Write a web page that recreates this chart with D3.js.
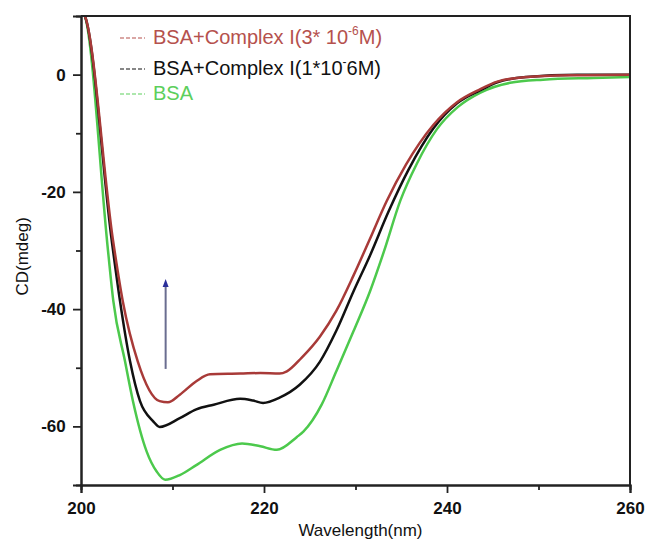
<!DOCTYPE html>
<html>
<head>
<meta charset="utf-8">
<script src="https://cdn.jsdelivr.net/npm/d3@7"></script>
<style>
  body { margin: 0; background: #fff; }
  svg { display: block; font-family: "Liberation Sans", Arial, sans-serif; }
</style>
</head>
<body>
<svg id="chart" width="646" height="541"></svg>
<script>
// CD spectra: [wavelength nm, CD mdeg]
var bsa = [[200, 11], [200.44, 9.9], [202.95, -30], [203.53, -38.6], [204.81, -48.9], [205.68, -55.7],
  [207.18, -64.3], [208.27, -67.7], [209.2, -69.1], [210.8, -68.3], [212.6, -66.6], [215.2, -64],
  [217.6, -62.9], [219.6, -63.4], [221.4, -64], [223.6, -61.8], [224.3, -60.9], [226.3, -56.3],
  [227.9, -50.6], [229.8, -43.7], [231.6, -36.9], [233.1, -30.2], [234.9, -21.5], [236.7, -15.2],
  [238.9, -9.3], [241.2, -5.5], [243.6, -3.1], [246.9, -1.4], [250.5, -0.86], [256, -0.57], [260, -0.4]];

var complex1 = [[200, 11], [200.44, 9.9], [203.36, -28.3], [204.26, -38.6], [205.36, -48.9], [206.45, -55.7],
  [207.87, -59.1], [208.6, -60.1], [210.8, -58.6], [212.6, -57.1], [214.5, -56.3], [217.4, -55.3],
  [218.8, -55.6], [219.9, -56], [221.7, -55.1], [223.9, -52.9], [226.1, -49], [227.9, -43.7],
  [229.8, -36.9], [231.6, -30.8], [233.6, -23.4], [235.8, -16.2], [238.5, -9.2], [241.1, -4.9],
  [243.6, -2.7], [245.5, -1.3], [248.7, -0.4], [254.2, 0], [260, 0]];

var complex3 = [[200, 11], [200.44, 9.9], [203.5, -28.3], [204.56, -38.6], [206.2, -48.9], [208.6, -55.7],
  [209.5, -55.9], [210.8, -54.6], [212.6, -52.3], [214.1, -51.1], [217.4, -51], [219.6, -50.9],
  [221.7, -51], [222.5, -50.6], [224.1, -48.3], [226.1, -44.7], [227.9, -40.3], [229.8, -34.2],
  [231.5, -28.3], [233.4, -21.6], [235.5, -15.4], [238.5, -8.6], [241.1, -4.7], [243.6, -2.5],
  [245.5, -1.2], [248.7, -0.4], [254.2, -0.1], [260, 0]];

var xTicks = [200, 220, 240, 260];
var xMinor = [210, 230, 250];
var yTicks = [0, -20, -40, -60];
var yMinor = [-10, -30, -50];
var arrowX = 209.25, arrowFrom = -50.2, arrowTo = -35.2;

var svg = d3.select('#chart');
var margin = {top: 16, right: 16, bottom: 56, left: 81};
var W = 646, H = 541;

var x = d3.scaleLinear().domain([200, 260]).range([margin.left, W - margin.right]);
var y = d3.scaleLinear().domain([-70, 10]).range([H - margin.bottom, margin.top]);

svg.append('defs').append('clipPath').attr('id', 'plot')
  .append('rect')
  .attr('x', x(200)).attr('y', y(10))
  .attr('width', x(260) - x(200)).attr('height', y(-70) - y(10));

var line = d3.line()
  .x(function (d) { return x(d[0]); })
  .y(function (d) { return y(d[1]); })
  .curve(d3.curveMonotoneX);

var curves = [
  {data: bsa, color: '#4cc94c'},
  {data: complex1, color: '#111111'},
  {data: complex3, color: '#a83a38'}
];

var g = svg.append('g').attr('clip-path', 'url(#plot)');
curves.forEach(function (c) {
  g.append('path')
    .attr('d', line(c.data))
    .attr('fill', 'none')
    .attr('stroke', c.color)
    .attr('stroke-width', 2.5)
    .attr('stroke-linejoin', 'round');
});

// arrow
svg.append('line')
  .attr('x1', x(arrowX)).attr('x2', x(arrowX))
  .attr('y1', y(arrowFrom)).attr('y2', y(arrowTo) + 4)
  .attr('stroke', '#6a6d90').attr('stroke-width', 2);
svg.append('path')
  .attr('d', 'M' + (x(arrowX) - 3) + ',' + (y(arrowTo) + 6) + 'L' + x(arrowX) + ',' + (y(arrowTo) - 2) +
    'L' + (x(arrowX) + 3) + ',' + (y(arrowTo) + 6) + 'Z')
  .attr('fill', '#2b2f9a');

// axes
var fmt = function (d) { return String(d); };
var xAxis = svg.append('g').attr('transform', 'translate(0,' + y(-70) + ')')
  .call(d3.axisBottom(x).tickValues(xTicks).tickSize(8).tickFormat(fmt));
var xMin = svg.append('g').attr('transform', 'translate(0,' + y(-70) + ')')
  .call(d3.axisBottom(x).tickValues(xMinor).tickSize(5).tickFormat(''));
var yAxis = svg.append('g').attr('transform', 'translate(' + x(200) + ',0)')
  .call(d3.axisLeft(y).tickValues(yTicks).tickSize(8).tickFormat(fmt));
var yMin = svg.append('g').attr('transform', 'translate(' + x(200) + ',0)')
  .call(d3.axisLeft(y).tickValues(yMinor).tickSize(5).tickFormat(''));

[xAxis, xMin, yAxis, yMin].forEach(function (a) {
  a.select('.domain').attr('stroke', '#222').attr('stroke-width', 2);
  a.selectAll('.tick line').attr('stroke', '#222').attr('stroke-width', 1.8);
  a.selectAll('.tick text')
    .attr('fill', '#111')
    .style('font-family', '"Liberation Sans", Arial, sans-serif')
    .style('font-size', '17px')
    .style('font-weight', '700');
});
xAxis.selectAll('.tick text').attr('dy', '1.05em');
yAxis.selectAll('.tick text').attr('dx', '-0.25em');

// frame top/right
svg.append('path')
  .attr('d', 'M' + x(200) + ',' + y(10) + 'H' + x(260) + 'V' + y(-70))
  .attr('fill', 'none').attr('stroke', '#222').attr('stroke-width', 2);

// axis titles
svg.append('text')
  .attr('x', (x(200) + x(260)) / 2 + 5).attr('y', 536)
  .attr('text-anchor', 'middle').attr('font-size', 17).attr('fill', '#111')
  .text('Wavelength(nm)');
svg.append('text')
  .attr('transform', 'translate(28,' + y(-31) + ') rotate(-90)')
  .attr('text-anchor', 'middle').attr('font-size', 17).attr('fill', '#111')
  .text('CD(mdeg)');

// legend
var legend = [
  {label: 'BSA+Complex I(3* 10', sup: '-6', tail: 'M)', color: '#b5514d', yy: 44},
  {label: 'BSA+Complex I(1*10', sup: '-', tail: '6M)', color: '#111111', yy: 75},
  {label: 'BSA', sup: null, tail: null, color: '#5ccf5c', yy: 100}
];
legend.forEach(function (l) {
  svg.append('line')
    .attr('x1', 120).attr('x2', 145)
    .attr('y1', l.yy - 6).attr('y2', l.yy - 6)
    .attr('stroke', l.color).attr('stroke-width', 1.2)
    .attr('stroke-dasharray', '4,2');
  var t = svg.append('text')
    .attr('x', 153).attr('y', l.yy)
    .attr('font-size', 20).attr('fill', l.color);
  t.append('tspan').text(l.label);
  if (l.sup) {
    t.append('tspan').attr('font-size', 12).attr('dy', -9).text(l.sup);
    t.append('tspan').attr('dy', 9).text(l.tail);
  }
});
</script>
</body>
</html>
